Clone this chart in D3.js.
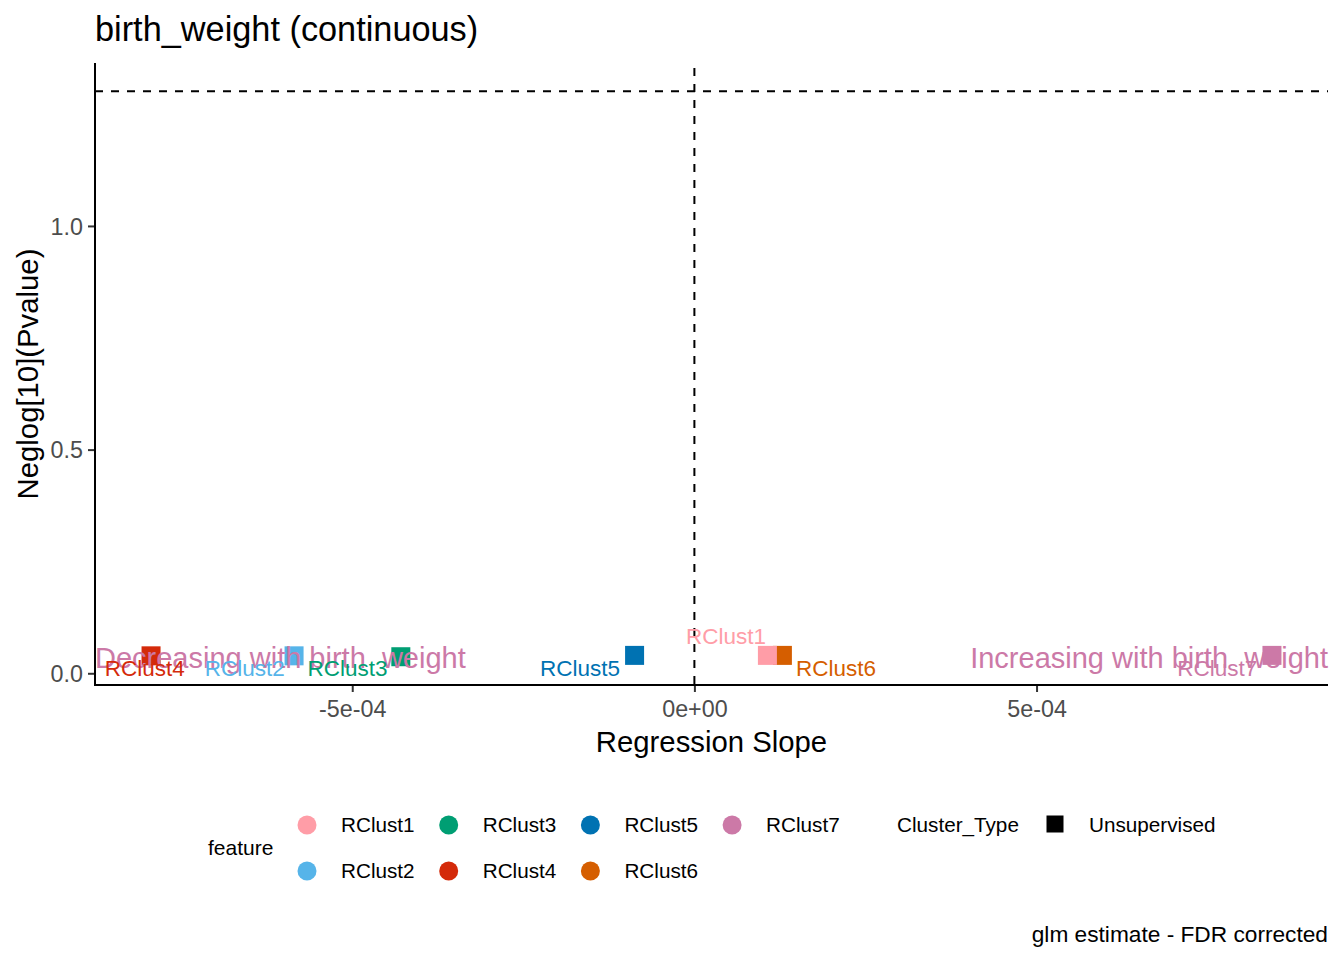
<!DOCTYPE html>
<html>
<head>
<meta charset="utf-8">
<script src="https://cdn.jsdelivr.net/npm/d3@7"></script>
<style>
  html, body { margin: 0; padding: 0; background: #fff; }
  svg { display: block; font-family: "Liberation Sans", Arial, sans-serif; }
</style>
</head>
<body>
<div id="chart"></div>
<script>
// data
const features   = ['RClust1', 'RClust2', 'RClust3', 'RClust4', 'RClust5', 'RClust6', 'RClust7'];
const slopes     = [0.0001067, -0.000585, -0.000429, -0.000794, -0.0000874, 0.0001286, 0.000844];
const negLogP    = [0.040, 0.039, 0.037, 0.039, 0.040, 0.040, 0.040];
// where the repelled labels ended up (data units)
const labelX     = [0.0000461, -0.000657, -0.000507, -0.000803, -0.000167, 0.000207, 0.000764];
const labelY     = [0.0827, 0.0123, 0.0123, 0.0123, 0.0123, 0.0123, 0.0123];
const featureColors = ['#FF9DA7', '#56B4E9', '#009E73', '#D42A0A', '#0072B2', '#D55E00', '#CC79A7'];
const drawOrder  = [3, 1, 2, 4, 5, 0, 6];   // RClust1 sits on top of RClust6

const xTicks      = [-0.0005, 0, 0.0005];
const xTickLabels = ['-5e-04', '0e+00', '5e-04'];
const yTicks      = [0, 0.5, 1.0];
const yTickLabels = ['0.0', '0.5', '1.0'];

const pThreshold = -Math.log10(0.05);
const annotY     = 0.0335;
const annotDown  = 'Decreasing with birth\u00a0\u00a0weight';
const annotUp    = 'Increasing with birth\u00a0\u00a0weight';
const clusterTypes = ['Unsupervised'];

const W = 1344, H = 960;
const P = { left: 95, right: 1328, top: 63, bottom: 685 };

const svg = d3.select('#chart').append('svg')
  .attr('width', W).attr('height', H);

// scales with ggplot-style 5% expansion
function expand(ext, f = 0.05) {
  const d = ext[1] - ext[0];
  return [ext[0] - d * f, ext[1] + d * f];
}
const x = d3.scaleLinear()
  .domain(expand(d3.extent(slopes.concat([0]))))
  .range([P.left, P.right]);
const y = d3.scaleLinear()
  .domain(expand(d3.extent(negLogP.concat([pThreshold]))))
  .range([P.bottom, P.top]);

// title
svg.append('text')
  .attr('x', P.left).attr('y', 41)
  .style('font-size', '34.3px').style('fill', '#000')
  .text('birth_weight (continuous)');

// reference lines
const g = svg.append('g');
g.append('line')
  .attr('x1', P.left).attr('x2', P.right)
  .attr('y1', y(pThreshold)).attr('y2', y(pThreshold))
  .attr('stroke', '#000').attr('stroke-width', 2).attr('stroke-dasharray', '8,8');
g.append('line')
  .attr('x1', x(0)).attr('x2', x(0))
  .attr('y1', P.top + 5).attr('y2', P.bottom)
  .attr('stroke', '#000').attr('stroke-width', 2).attr('stroke-dasharray', '8,8');

// axes
const xAxis = svg.append('g')
  .attr('transform', `translate(0,${P.bottom})`)
  .call(d3.axisBottom(x).tickValues(xTicks).tickSize(7).tickPadding(8)
    .tickFormat((d, i) => xTickLabels[i]));
const yAxis = svg.append('g')
  .attr('transform', `translate(${P.left},0)`)
  .call(d3.axisLeft(y).tickValues(yTicks).tickSize(7).tickPadding(5)
    .tickFormat((d, i) => yTickLabels[i]));

[xAxis, yAxis].forEach(ax => {
  ax.select('.domain').remove();
  ax.selectAll('.tick line').attr('stroke', '#333').attr('stroke-width', 2);
  ax.selectAll('.tick text')
    .style('font-size', '23.3px').style('fill', '#4D4D4D')
    .style('font-family', '"Liberation Sans", Arial, sans-serif');
});
yAxis.selectAll('.tick text').attr('dy', '0.36em');
xAxis.selectAll('.tick text').attr('dy', '0.72em');

svg.append('line')
  .attr('x1', P.left).attr('x2', P.left).attr('y1', P.top).attr('y2', P.bottom + 1)
  .attr('stroke', '#000').attr('stroke-width', 2);
svg.append('line')
  .attr('x1', P.left - 1).attr('x2', P.right).attr('y1', P.bottom).attr('y2', P.bottom)
  .attr('stroke', '#000').attr('stroke-width', 2);

// axis titles
svg.append('text')
  .attr('x', (P.left + P.right) / 2).attr('y', 752)
  .attr('text-anchor', 'middle')
  .style('font-size', '29.3px').text('Regression Slope');
svg.append('text')
  .attr('transform', `translate(38,${(P.top + P.bottom) / 2}) rotate(-90)`)
  .attr('text-anchor', 'middle')
  .style('font-size', '29.3px').text('Neglog[10](Pvalue)');

// points
const SQ = 19;
svg.append('g').selectAll('rect')
  .data(drawOrder)
  .join('rect')
    .attr('x', i => x(slopes[i]) - SQ / 2)
    .attr('y', i => y(negLogP[i]) - SQ / 2)
    .attr('width', SQ).attr('height', SQ)
    .attr('fill', i => featureColors[i]);

// direction annotations
svg.append('text')
  .attr('x', P.left).attr('y', y(annotY)).attr('dy', '0.35em')
  .style('font-size', '29px').style('fill', '#CC79A7')
  .text(annotDown);
svg.append('text')
  .attr('x', P.right).attr('y', y(annotY)).attr('dy', '0.35em')
  .attr('text-anchor', 'end')
  .style('font-size', '29px').style('fill', '#CC79A7')
  .text(annotUp);

// point labels
svg.append('g').selectAll('text')
  .data(features)
  .join('text')
    .attr('x', (d, i) => x(labelX[i]))
    .attr('y', (d, i) => y(labelY[i]))
    .attr('dy', '0.35em')
    .attr('text-anchor', 'middle')
    .style('font-size', '22.5px')
    .style('fill', (d, i) => featureColors[i])
    .text(d => d);

// legend: feature
const LG = { x0: 307, colW: 141.7, row0: 825, rowH: 46 };
svg.append('text')
  .attr('x', 208).attr('y', 848).attr('dy', '0.35em')
  .style('font-size', '21px').text('feature');
const keys = svg.append('g').selectAll('g')
  .data(features)
  .join('g')
    .attr('transform', (d, i) =>
      `translate(${LG.x0 + Math.floor(i / 2) * LG.colW},${LG.row0 + (i % 2) * LG.rowH})`);
keys.append('circle').attr('r', 9.5).attr('fill', (d, i) => featureColors[i]);
keys.append('text')
  .attr('x', 34).attr('dy', '0.35em')
  .style('font-size', '20.7px').text(d => d);

// legend: Cluster_Type
svg.append('text')
  .attr('x', 897).attr('y', LG.row0).attr('dy', '0.35em')
  .style('font-size', '20.7px').text('Cluster_Type');
const ct = svg.append('g').selectAll('g')
  .data(clusterTypes)
  .join('g')
    .attr('transform', (d, i) => `translate(1055,${LG.row0 - 1 + i * LG.rowH})`);
ct.append('rect').attr('x', -8.5).attr('y', -8.5).attr('width', 17).attr('height', 17).attr('fill', '#000');
ct.append('text').attr('x', 34).attr('y', 1).attr('dy', '0.35em')
  .style('font-size', '20.7px').text(d => d);

// caption
svg.append('text')
  .attr('x', P.right).attr('y', 942)
  .attr('text-anchor', 'end')
  .style('font-size', '22.7px').text('glm estimate - FDR corrected');
</script>
</body>
</html>
